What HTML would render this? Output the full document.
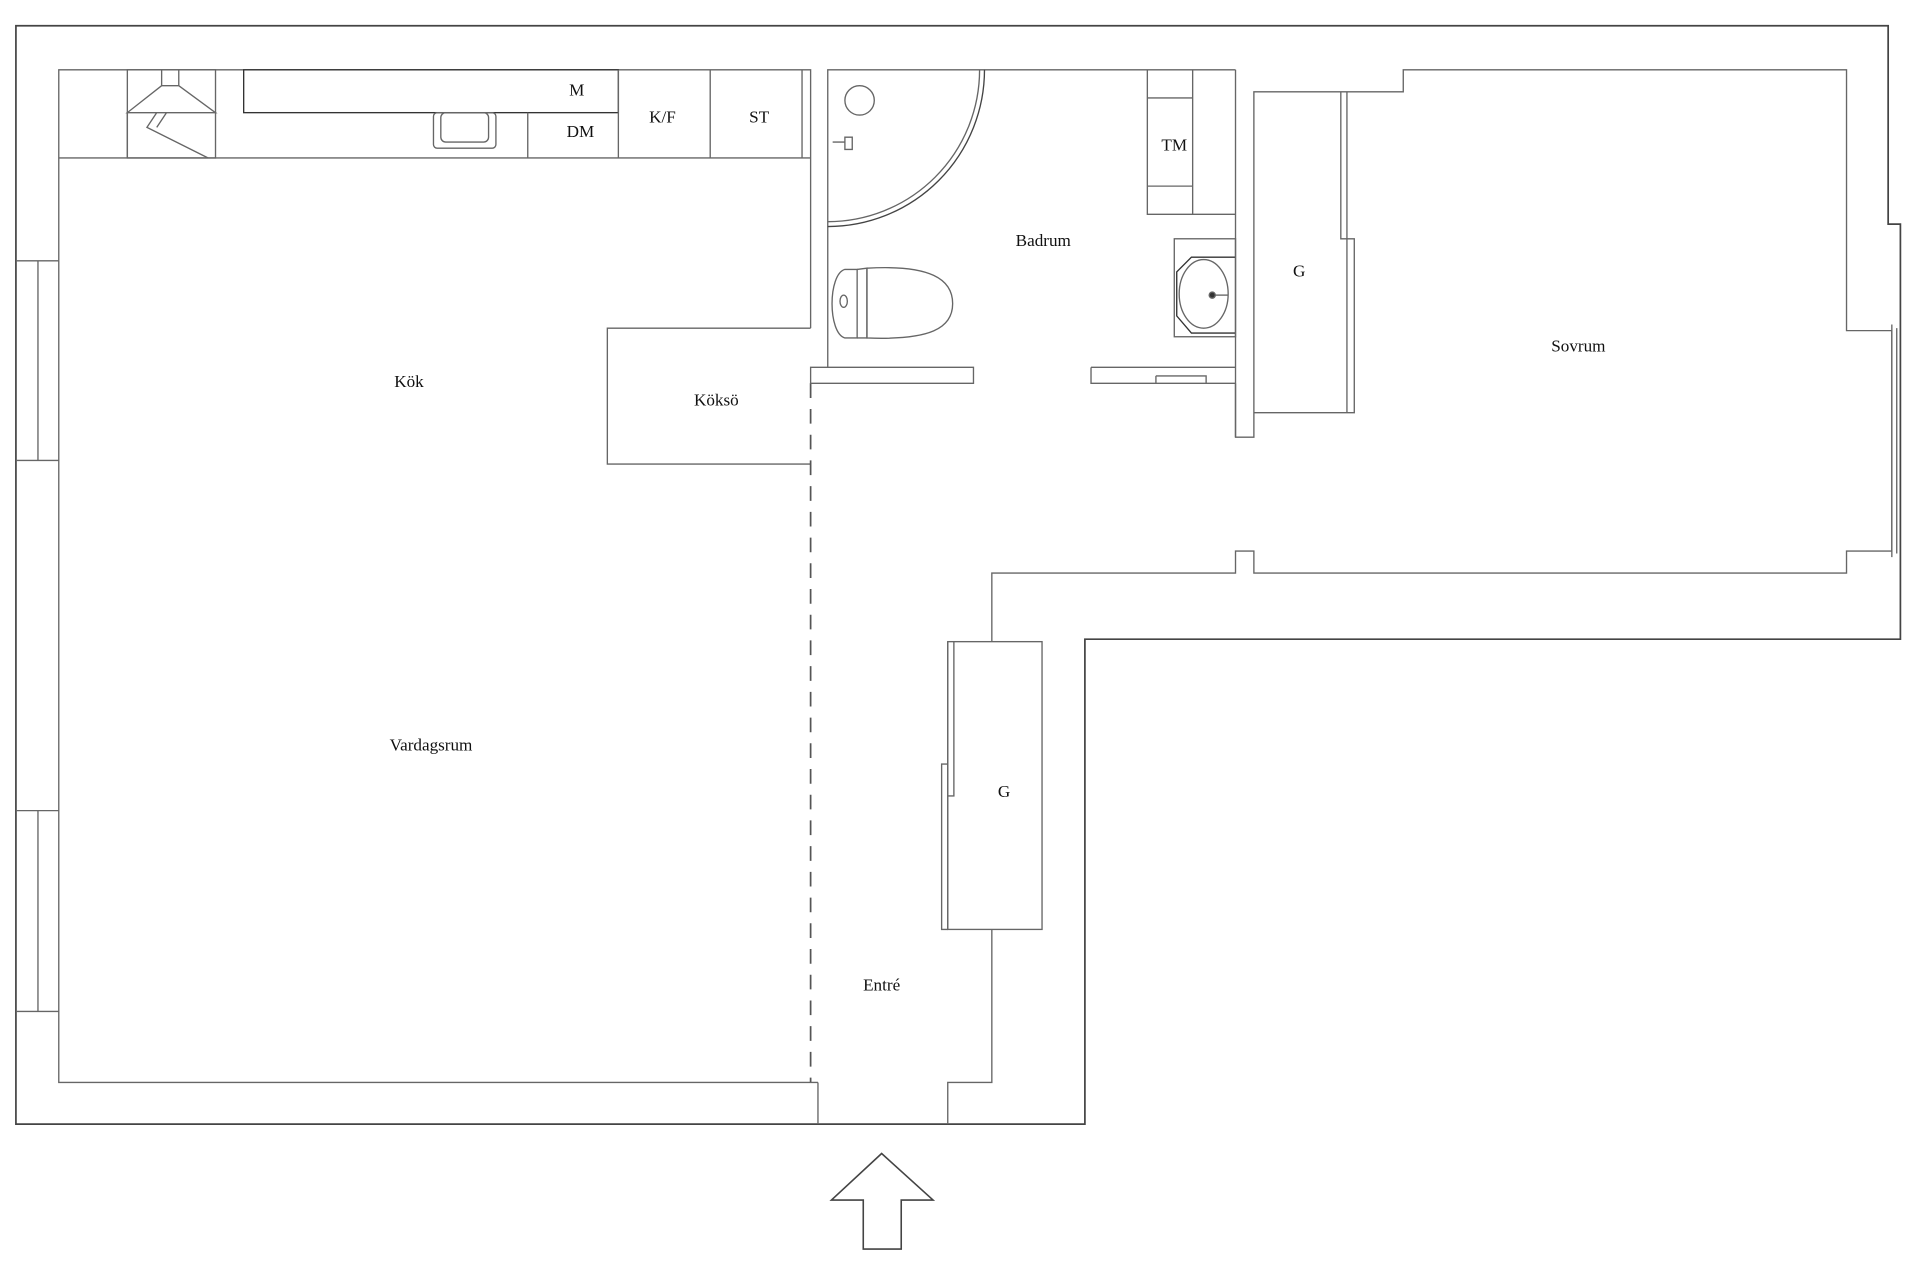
<!DOCTYPE html>
<html><head><meta charset="utf-8"><style>
html,body{margin:0;padding:0;background:#fff;}
svg{display:block;}
text{font-family:"Liberation Serif",serif;font-size:14px;fill:#111;text-anchor:middle;}
</style></head><body>
<svg width="1920" height="1280" viewBox="0 0 1568 1045.3" preserveAspectRatio="none" xmlns="http://www.w3.org/2000/svg">
<g fill="none" stroke="#666" stroke-width="1.1">
<!-- outer wall -->
<path d="M13,21 H1542 V183 H1552 V522 H886 V918 H13 Z" stroke="#444" stroke-width="1.4"/>
<!-- living/kitchen room -->
<path d="M48,213 V57 H662 V268"/>
<path d="M48,213 V884 H662"/>
<!-- left windows -->
<path d="M13,213 H48 M31,213 V376 M13,376 H48"/>
<path d="M13,662 H48 M31,662 V826 M13,826 H48"/>
<!-- kitchen counter -->
<path d="M48,129 H662 M655,57 V129"/>
<rect x="104" y="57" width="72" height="72"/>
<path d="M132,57 V70 H146 V57 M132,70 L104,92 H176 L146,70 M104,92 V129 M128,92 L120,104 L170,129 M136,92 L128,104"/>
<rect x="199" y="57" width="306" height="35" stroke="#333"/>
<rect x="354" y="92" width="51" height="29" rx="3"/>
<rect x="360" y="92" width="39" height="24" rx="4"/>
<path d="M431,92 V129 M505,57 V129 M580,57 V129"/>
<!-- köksö -->
<path d="M662,268 H496 V379 H662"/>
<!-- dashed -->
<path d="M662,313 V884" stroke="#555" stroke-width="1.4" stroke-dasharray="12,9"/>
<!-- bathroom -->
<path d="M676,300 V57 H1009"/>
<path d="M804,57 A128,128 0 0 1 676,185" stroke="#444"/>
<path d="M800,57 A124,124 0 0 1 676,181"/>
<circle cx="702" cy="82" r="12"/>
<path d="M680,116 H690 M690,112 h6 v10 h-6 z"/>
<path d="M708,219 C760,216 778,228 778,248 C778,268 760,278 708,276 Z"/>
<path d="M700,220 H690 C676,224 676,272 690,276 H700 Z"/>
<path d="M700,220 L708,219 L708,276 L700,276"/>
<ellipse cx="689" cy="246" rx="3" ry="5"/>
<path d="M676,300 H662 V313 H795 V300 H676"/>
<path d="M891,300 H1009 M891,300 V313 H1009 M944,307 H985 V313 M944,307 V313"/>
<!-- TM -->
<path d="M937,57 V175 H1009 M974,57 V175 M937,80 H974 M937,152 H974"/>
<!-- basin -->
<rect x="959" y="195" width="50" height="80"/>
<path d="M1009,210 H973 L961,222 V258 L973,272 H1009" stroke="#333"/>
<ellipse cx="983" cy="240" rx="20" ry="28"/>
<circle cx="990" cy="241" r="2.5" fill="#333"/>
<path d="M992,241 H1003"/>
<!-- wall between bath and bedroom -->
<path d="M1009,57 V357 H1024 V75 H1146 V57 H1508 V270 H1545 V450 H1508 V468 H1024 V450 H1009 V468 H810 V524"/>
<path d="M1009,313 V357"/>
<!-- G wardrobe right -->
<path d="M1024,337 H1106 V195 H1100 V75 M1095,75 V195 H1100 M1100,195 V337"/>
<path d="M1545,265 V455 M1549,268 V452"/>
<!-- G wardrobe entry -->
<rect x="774" y="524" width="77" height="235"/>
<path d="M774,524 V759 M779,524 V650 H774 M774,624 H769 V759 H774"/>
<path d="M810,759 V884 H774 V918 M668,884 V918 M662,884 H668"/>
<!-- arrow -->
<path d="M720,942 L762,980 H736 V1020 H705 V980 H679 Z" stroke="#444" stroke-width="1.3"/>
</g>
<text x="471" y="78">M</text>
<text x="474" y="112">DM</text>
<text x="541" y="100">K/F</text>
<text x="620" y="100">ST</text>
<text x="852" y="201">Badrum</text>
<text x="959" y="123">TM</text>
<text x="1061" y="226">G</text>
<text x="1289" y="287">Sovrum</text>
<text x="334" y="316">Kök</text>
<text x="585" y="331">Köksö</text>
<text x="352" y="613">Vardagsrum</text>
<text x="820" y="651">G</text>
<text x="720" y="809">Entré</text>
</svg>
</body></html>
